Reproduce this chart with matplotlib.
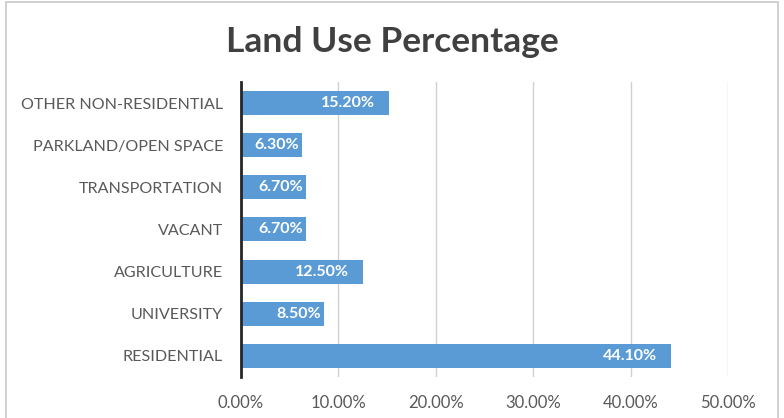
import matplotlib.pyplot as plt
from matplotlib.patches import Rectangle
from matplotlib.ticker import FuncFormatter

categories = ["RESIDENTIAL", "UNIVERSITY", "AGRICULTURE", "VACANT",
              "TRANSPORTATION", "PARKLAND/OPEN SPACE", "OTHER NON-RESIDENTIAL"]
values = [44.1, 8.5, 12.5, 6.7, 6.7, 6.3, 15.2]
x_ticks = [0, 10, 20, 30, 40, 50]

bar_color = "#5B9BD5"
text_color = "#595959"

plt.rcParams['font.family'] = ['Lato', 'DejaVu Sans']

fig = plt.figure(figsize=(7.84, 4.18), dpi=100)
ax = fig.add_axes([0.3074, 0.098, 0.6212, 0.706])

# chart frame
fig.patches.append(Rectangle((6 / 784, -0.05), 772 / 784, 1.05 - 2 / 418,
                             transform=fig.transFigure, fill=False,
                             edgecolor="#c8c8c8", linewidth=1.2))

y = range(len(categories))
ax.barh(y, values, height=0.57, color=bar_color, zorder=2)

ax.set_xlim(0, 50)
ax.set_ylim(-0.5, len(categories) - 0.5)
ax.set_xticks(x_ticks)
ax.xaxis.set_major_formatter(FuncFormatter(lambda v, p: f"{v:.2f}%"))
ax.set_yticks(list(y))
ax.set_yticklabels(categories)

ax.grid(axis="x", color="#d0d0d0", linewidth=1, zorder=0)
for side in ["top", "right", "bottom"]:
    ax.spines[side].set_visible(False)
ax.spines["left"].set_color("#262626")
ax.spines["left"].set_linewidth(2)
ax.spines["left"].set_zorder(3)

ax.tick_params(axis="y", length=0, pad=13, labelsize=11.6, labelcolor=text_color)
ax.tick_params(axis="x", length=0, pad=13, labelsize=12, labelcolor=text_color)

# value labels inside the bar ends
for yi, v in zip(y, values):
    off = -3 if v < 10 else -14
    ax.annotate(f"{v:.2f}%", (v, yi), xytext=(off, 0), textcoords="offset pixels",
                ha="right", va="center", color="white", fontsize=11.5,
                fontweight="bold", zorder=4)

fig.text(0.5, 0.9, "Land Use Percentage", ha="center", va="center",
         fontsize=25.5, fontweight="bold", color="#404040")

fig.savefig("out.png", dpi=100)
